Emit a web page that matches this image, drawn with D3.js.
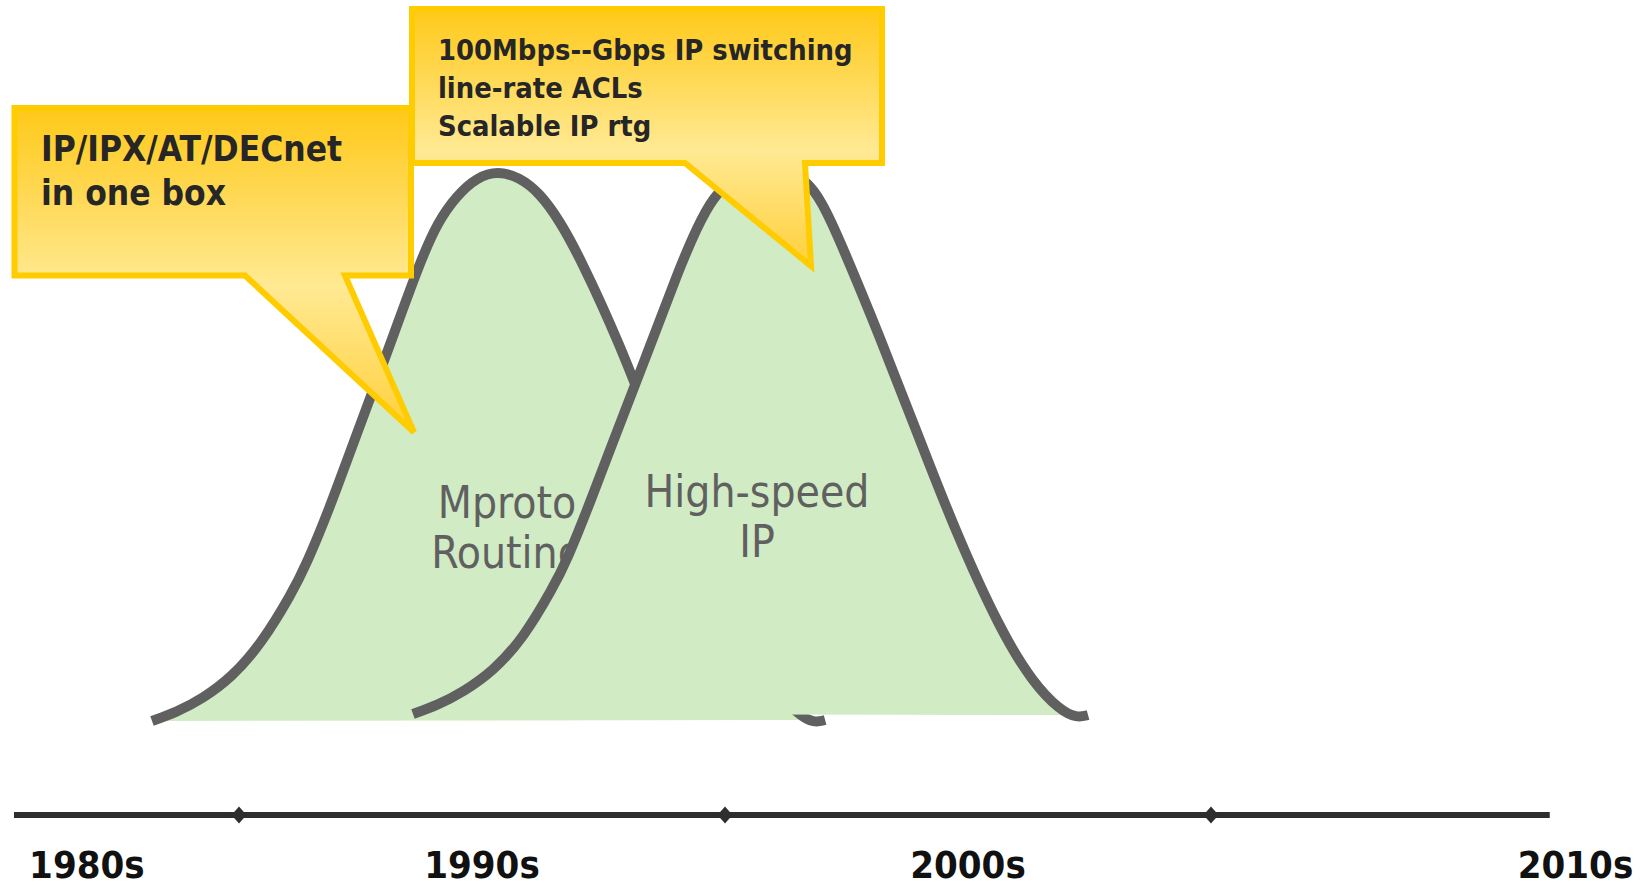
<!DOCTYPE html>
<html>
<head>
<meta charset="utf-8">
<script src="https://cdn.jsdelivr.net/npm/d3@7/dist/d3.min.js"></script>
<style>
  html, body { margin: 0; padding: 0; background: #ffffff; }
  svg { display: block; }
  .tahomaish { font-family: "DejaVu Sans Condensed", "DejaVu Sans", sans-serif; font-stretch: condensed; }
</style>
</head>
<body>
<svg id="chart" width="1652" height="886"></svg>
<script>
// Timeline: decade labels and the mid-decade markers on the axis
const decadeLabels = ["1980s", "1990s", "2000s", "2010s"];
const decadeLabelYears = [1981.87, 1990, 2000, 2012.5];
const markerYears = [1985, 1995, 2005];
const axisExtent = [1980.37, 2011.97];

// Adoption curve of multiprotocol routing (year, relative share 0-100)
const mprotoYears = [1983.21, 1983.72, 1984.24, 1984.86, 1985.47, 1986.09, 1986.38, 1986.85, 1987.26,
                     1987.98, 1988.72, 1989.09, 1989.47, 1989.90, 1990.33, 1990.76, 1991.19, 1991.60,
                     1992.02, 1992.82, 1993.64, 1994.36, 1995.29, 1995.97, 1996.52, 1996.83, 1997.06];
const mprotoShare = [0.18, 1.81, 4.17, 8.15, 14.31, 23.37, 28.44, 38.41, 48.37,
                     65.22, 83.33, 90.58, 95.29, 98.73, 99.82, 98.73, 95.83, 90.76,
                     84.06, 68.84, 50.18, 33.88, 15.76, 6.16, 1.27, -0.18, 0.36];
const mprotoLabel = ["Mproto", "Routing"];

// Adoption curve of high-speed IP
const ipYears = [1988.58, 1989.09, 1989.61, 1990.23, 1990.84, 1991.46, 1991.75, 1992.22, 1992.63,
                 1993.35, 1994.07, 1994.42, 1994.75, 1995.21, 1995.72, 1996.17, 1996.69, 1997.00,
                 1997.30, 1998.19, 1999.01, 1999.73, 2000.66, 2001.34, 2001.89, 2002.24, 2002.47];
const ipShare = [1.45, 3.08, 5.43, 9.24, 15.04, 24.28, 29.35, 39.67, 49.28,
                 65.58, 82.43, 89.49, 95.11, 98.91, 100.72, 100.0, 98.19, 94.02,
                 88.59, 69.75, 51.09, 34.78, 16.67, 7.07, 2.17, 0.72, 1.27];
const ipLabel = ["High-speed", "IP"];

// Callout texts and the points on the curves they point at
const calloutOneLines = ["IP/IPX/AT/DECnet", "in one box"];
const calloutOneTarget = [1988.6, 52.5];
const calloutTwoLines = ["100Mbps--Gbps IP switching", "line-rate ACLs", "Scalable IP rtg"];
const calloutTwoTarget = [1996.77, 82.6];

const svg = d3.select("#chart");

const x = d3.scaleLinear().domain([1985, 2005]).range([239, 1211]);
const y = d3.scaleLinear().domain([0, 100]).range([722, 170]);

const defs = svg.append("defs");
const grad = defs.append("linearGradient")
  .attr("id", "calloutFill")
  .attr("x1", 0).attr("y1", 0).attr("x2", 0).attr("y2", 1);
grad.append("stop").attr("offset", "0%").attr("stop-color", "#ffc919");
grad.append("stop").attr("offset", "55%").attr("stop-color", "#ffe993");
grad.append("stop").attr("offset", "100%").attr("stop-color", "#ffd03c");

const curveLine = d3.line()
  .x(d => x(d[0]))
  .y(d => y(d[1]))
  .curve(d3.curveBasis);

function drawBell(years, share, label, labelX, labelY) {
  const pts = years.map((yr, i) => [yr, share[i]]);
  const g = svg.append("g");
  // the open path is filled (closing straight back to its start) and stroked only along the curve
  g.append("path")
    .attr("d", curveLine(pts))
    .attr("fill", "#d1ebc5")
    .attr("stroke", "none");
  g.append("text")
    .attr("class", "tahomaish")
    .attr("text-anchor", "middle")
    .attr("font-size", 44)
    .attr("fill", "#606060")
    .selectAll("tspan")
    .data(label)
    .join("tspan")
    .attr("x", labelX)
    .attr("y", (d, i) => labelY + i * 50)
    .text(d => d);
  g.append("path")
    .attr("d", curveLine(pts))
    .attr("fill", "none")
    .attr("stroke", "#606060")
    .attr("stroke-width", 10)
    .attr("stroke-linecap", "butt");
}

drawBell(mprotoYears, mprotoShare, mprotoLabel, 507, 518);
drawBell(ipYears, ipShare, ipLabel, 757, 507);

// Timeline axis
svg.append("line")
  .attr("x1", x(axisExtent[0])).attr("x2", x(axisExtent[1]))
  .attr("y1", 815).attr("y2", 815)
  .attr("stroke", "#2e2e2e")
  .attr("stroke-width", 6);

svg.selectAll(".marker")
  .data(markerYears)
  .join("path")
  .attr("class", "marker")
  .attr("d", d => `M${x(d)},806.5 L${x(d) + 7.5},815 L${x(d)},823.5 L${x(d) - 7.5},815 Z`)
  .attr("fill", "#2e2e2e");

svg.selectAll(".decade")
  .data(decadeLabels)
  .join("text")
  .attr("class", "decade tahomaish")
  .attr("x", (d, i) => x(decadeLabelYears[i]))
  .attr("y", 878)
  .attr("text-anchor", "middle")
  .attr("font-size", 38)
  .attr("font-weight", "bold")
  .attr("fill", "#111111")
  .text(d => d);

// Callouts: a box with a pointed tail towards a point on a curve
function callout(box, tailBase, target, lines, textX, firstBaseline, lineStep, fontSize) {
  const tx = x(target[0]), ty = y(target[1]);
  const d = `M${box.left},${box.top} H${box.right} V${box.bottom} H${tailBase[1]} L${tx},${ty} L${tailBase[0]},${box.bottom} H${box.left} Z`;
  const g = svg.append("g");
  g.append("path")
    .attr("d", d)
    .attr("fill", "url(#calloutFill)")
    .attr("stroke", "#ffcc00")
    .attr("stroke-width", 6)
    .attr("stroke-linejoin", "miter");
  g.append("text")
    .attr("class", "tahomaish")
    .attr("font-size", fontSize)
    .attr("font-weight", "bold")
    .attr("fill", "#262626")
    .selectAll("tspan")
    .data(lines)
    .join("tspan")
    .attr("x", textX)
    .attr("y", (t, i) => firstBaseline + i * lineStep)
    .text(t => t);
}

callout({ left: 14.5, top: 108, right: 411, bottom: 275.5 }, [245, 345], calloutOneTarget,
        calloutOneLines, 41, 161, 44, 35);
callout({ left: 412, top: 9, right: 882, bottom: 163 }, [685, 805], calloutTwoTarget,
        calloutTwoLines, 438, 60, 38, 28.8);
</script>
</body>
</html>
